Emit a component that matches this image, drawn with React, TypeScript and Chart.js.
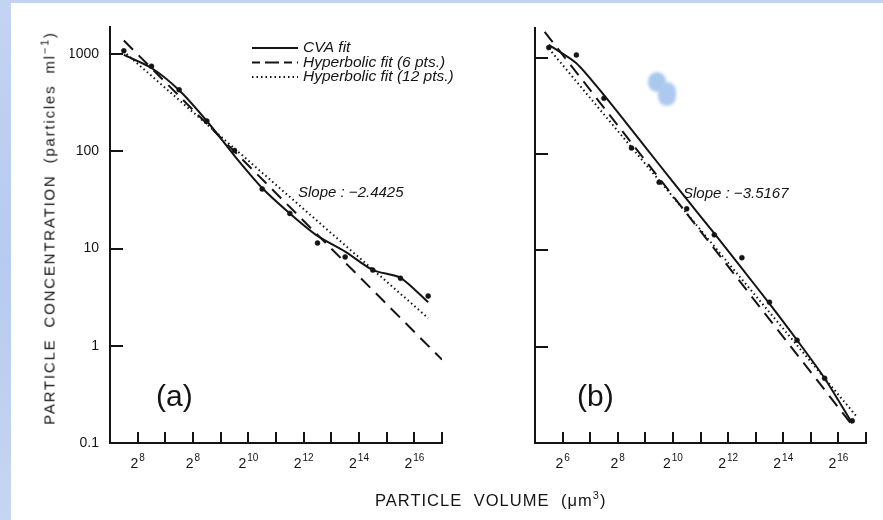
import React, { useEffect, useRef } from 'react';
import { Chart, registerables } from 'chart.js';

Chart.register(...registerables);

// ---------- data (x = log2 of particle volume, y = particles per ml) ----------
const exponents = [5.5, 6.5, 7.5, 8.5, 9.5, 10.5, 11.5, 12.5, 13.5, 14.5, 15.5, 16.5];

// panel (a)
const observedA = [1080, 750, 430, 205, 102, 41, 23, 11.4, 8.2, 6.0, 4.95, 3.25];
const cvaFitA = [980, 720, 425, 205, 90, 42, 23, 13.5, 9.3, 6.0, 5.0, 2.8];
const hyp6ExpA = [5.5, 17];
const hyp6A = [1380, 0.72];
const hyp12ExpA = [5.6, 16.5];
const hyp12A = [1000, 1.93];

// panel (b)
const observedB = [1280, 1070, 380, 116, 51, 27, 14.5, 8.4, 2.9, 1.17, 0.47, 0.17];
const cvaFitB = [1365, 880, 410, 180, 78, 34, 15, 6.5, 2.8, 1.17, 0.47, 0.16];
const hyp6ExpB = [5.35, 16.45];
const hyp6B = [1860, 0.16];
const hyp12ExpB = [5.5, 16.65];
const hyp12B = [1250, 0.19];

// axes
const xTickValues = [6, 7, 8, 9, 10, 11, 12, 13, 14, 15, 16, 17];
const xTickPowersA = ['8', '', '8', '', '10', '', '12', '', '14', '', '16', ''];
const xTickPowersB = ['6', '', '8', '', '10', '', '12', '', '14', '', '16', ''];
const xTickBase = '2';
const yTickValues = [0.1, 1, 10, 100, 1000];
const yTickLabels = ['0.1', '1', '10', '100', '1000'];
const xRange = [5, 17];
const yRangeA = [0.1, 1900];
const yRangeB = [0.1, 2040];

const seriesLabels = ['CVA fit', 'Hyperbolic fit (6 pts.)', 'Hyperbolic fit (12 pts.)'];
const slopeTextA = 'Slope : −2.4425';
const slopeTextB = 'Slope : −3.5167';

const INK = '#141414';
const FONT = '"Liberation Sans", "DejaVu Sans", Arial, sans-serif';

const pairs = (xs: number[], ys: number[]) => xs.map((x, i) => ({ x, y: ys[i] }));

const innerTicksPlugin = {
  id: 'innerTicks',
  afterDatasetsDraw(chart: any, _args: any, opts: any) {
    const { ctx, chartArea, scales } = chart;
    const xs = scales.x;
    const ys = scales.y;
    ctx.save();
    ctx.strokeStyle = INK;
    ctx.lineWidth = 2;
    ctx.beginPath();
    xs.ticks.forEach((t: any) => {
      const px = Math.round(xs.getPixelForValue(t.value));
      ctx.moveTo(px, chartArea.bottom);
      ctx.lineTo(px, chartArea.bottom - opts.xLength);
    });
    ys.ticks.forEach((t: any) => {
      if (t.value <= ys.min) return;
      const py = Math.round(ys.getPixelForValue(t.value));
      ctx.moveTo(chartArea.left, py);
      ctx.lineTo(chartArea.left + opts.yLength, py);
    });
    ctx.stroke();

    // power-of-two tick labels under the x axis
    const powers: string[] = opts.powers || [];
    ctx.fillStyle = INK;
    ctx.textBaseline = 'alphabetic';
    xs.ticks.forEach((t: any) => {
      const i = xTickValues.indexOf(t.value);
      const p = i >= 0 ? powers[i] : '';
      if (!p) return;
      const px = xs.getPixelForValue(t.value);
      ctx.font = `14px ${FONT}`;
      const wb = ctx.measureText(xTickBase).width;
      ctx.font = `10px ${FONT}`;
      const wp = ctx.measureText(p).width;
      const x0 = px - (wb + wp + 1) / 2;
      const base = chartArea.bottom + opts.labelOffset;
      ctx.font = `14px ${FONT}`;
      ctx.textAlign = 'left';
      ctx.fillText(xTickBase, x0, base);
      ctx.font = `10px ${FONT}`;
      ctx.fillText(p, x0 + wb + 1, base - 7);
    });
    ctx.restore();
  },
};

const panelTextPlugin = {
  id: 'panelText',
  afterDraw(chart: any, _args: any, opts: any) {
    const { ctx } = chart;
    ctx.save();
    ctx.fillStyle = INK;
    ctx.textAlign = 'left';
    ctx.textBaseline = 'middle';
    (opts.items || []).forEach((it: any) => {
      ctx.font = it.font;
      ctx.fillText(it.text, it.x, it.y);
    });
    if (opts.legend) {
      const lg = opts.legend;
      const lines = chart.data.datasets.filter((d: any) => d.showLine);
      lines.forEach((d: any, i: number) => {
        const y = lg.y + i * lg.rowGap;
        ctx.save();
        ctx.strokeStyle = d.borderColor;
        ctx.lineWidth = d.borderWidth;
        ctx.setLineDash(d.legendDash || d.borderDash || []);
        ctx.beginPath();
        ctx.moveTo(lg.x, y);
        ctx.lineTo(lg.x + lg.lineLength, y);
        ctx.stroke();
        ctx.restore();
        ctx.font = lg.font;
        ctx.fillText(d.label, lg.x + lg.lineLength + 5, y);
      });
    }
    ctx.restore();
  },
};

function makeConfig(
  observed: number[],
  cva: number[],
  h6x: number[],
  h6: number[],
  h12x: number[],
  h12: number[],
  yRange: number[],
  powers: string[],
  showYLabels: boolean,
  padding: any,
  textOpts: any
): any {
  return {
    type: 'scatter',
    data: {
      datasets: [
        {
          label: seriesLabels[0],
          data: pairs(exponents, cva),
          showLine: true,
          borderColor: INK,
          borderWidth: 2,
          pointRadius: 0,
          tension: 0.25,
        },
        {
          label: seriesLabels[1],
          data: pairs(h6x, h6),
          showLine: true,
          borderColor: INK,
          borderWidth: 2,
          borderDash: [13, 8],
          legendDash: [8, 5, 14, 5],
          pointRadius: 0,
        },
        {
          label: seriesLabels[2],
          data: pairs(h12x, h12),
          showLine: true,
          borderColor: INK,
          borderWidth: 2,
          borderDash: [1.5, 3],
          pointRadius: 0,
        },
        {
          label: 'data',
          data: pairs(exponents, observed),
          showLine: false,
          pointRadius: 2.5,
          pointBackgroundColor: INK,
          pointBorderColor: INK,
          pointBorderWidth: 0.5,
        },
      ],
    },
    options: {
      responsive: false,
      animation: false,
      events: [],
      layout: { padding },
      plugins: {
        legend: { display: false },
        tooltip: { enabled: false },
        innerTicks: { xLength: 11, yLength: 13, powers, labelOffset: 25 },
        panelText: textOpts,
      },
      scales: {
        x: {
          type: 'linear',
          position: 'bottom',
          min: xRange[0],
          max: xRange[1],
          grid: { display: false },
          border: { display: true, color: INK, width: 2 },
          afterBuildTicks: (s: any) => {
            s.ticks = xTickValues.map((v) => ({ value: v }));
          },
          afterFit: (s: any) => {
            s.height = 40;
          },
          ticks: { display: false },
        },
        y: {
          type: 'logarithmic',
          position: 'left',
          min: yRange[0],
          max: yRange[1],
          bounds: 'data',
          grid: { display: false },
          border: { display: true, color: INK, width: 2 },
          afterBuildTicks: (s: any) => {
            s.ticks = yTickValues.map((v) => ({ value: v }));
          },
          afterFit: (s: any) => {
            s.width = 40;
          },
          ticks: {
            display: showYLabels,
            autoSkip: false,
            padding: 3,
            color: INK,
            font: { family: FONT, size: 14 },
            callback: (v: number) => {
              const i = yTickValues.indexOf(v);
              return i >= 0 ? yTickLabels[i] : '';
            },
          },
        },
      },
    },
    plugins: [innerTicksPlugin, panelTextPlugin],
  };
}

export default function App() {
  const refA = useRef<HTMLCanvasElement>(null);
  const refB = useRef<HTMLCanvasElement>(null);

  useEffect(() => {
    const italic = `italic 15px ${FONT}`;
    const legendFont = `italic 15.5px ${FONT}`;
    const big = `30px ${FONT}`;
    const chartA = new Chart(
      refA.current as HTMLCanvasElement,
      makeConfig(
        observedA, cvaFitA, hyp6ExpA, hyp6A, hyp12ExpA, hyp12A, yRangeA, xTickPowersA, true,
        { left: 70, right: 28, top: 27, bottom: 37 },
        {
          items: [
            { text: slopeTextA, x: 298, y: 193, font: italic },
            { text: '(a)', x: 156, y: 398, font: big },
          ],
          legend: { x: 252, y: 48, rowGap: 14.5, lineLength: 46, font: legendFont },
        }
      )
    );
    const chartB = new Chart(
      refB.current as HTMLCanvasElement,
      makeConfig(
        observedB, cvaFitB, hyp6ExpB, hyp6B, hyp12ExpB, hyp12B, yRangeB, xTickPowersB, false,
        { left: 25, right: 17, top: 28, bottom: 37 },
        {
          items: [
            { text: slopeTextB, x: 213, y: 194, font: italic },
            { text: '(b)', x: 107, y: 398, font: big },
          ],
        }
      )
    );
    return () => {
      chartA.destroy();
      chartB.destroy();
    };
  }, []);

  return (
    <div
      style={{
        position: 'fixed',
        left: 0,
        top: 0,
        width: 883,
        height: 520,
        overflow: 'hidden',
        background: 'linear-gradient(180deg, #c3d3f3, #b6cbef 50%, #c6d5f2)',
        fontFamily: FONT,
        color: INK,
      }}
    >
      <div style={{ position: 'absolute', left: 11, top: 3, right: 0, bottom: 0, background: '#ffffff' }} />
      {/* light blue smudge on the scanned page */}
      <div style={{ position: 'absolute', left: 648, top: 72, width: 18, height: 20, borderRadius: 10, background: '#a9c8ee', filter: 'blur(1.5px)' }} />
      <div style={{ position: 'absolute', left: 658, top: 82, width: 18, height: 24, borderRadius: 10, background: '#adc9ef', filter: 'blur(1.5px)' }} />
      <canvas ref={refA} width={470} height={520} style={{ position: 'absolute', left: 0, top: 0, width: 470, height: 520 }} />
      <canvas ref={refB} width={413} height={520} style={{ position: 'absolute', left: 470, top: 0, width: 413, height: 520 }} />
      <div
        style={{
          position: 'absolute',
          left: 47,
          top: 228,
          transform: 'translate(-50%, -50%) rotate(-90deg)',
          whiteSpace: 'nowrap',
          fontSize: 15,
          letterSpacing: 1.8,
          wordSpacing: 5,
          lineHeight: '16px',
        }}
      >
        PARTICLE CONCENTRATION (particles ml<sup style={{ fontSize: 11 }}>−1</sup>)
      </div>
      <div
        style={{
          position: 'absolute',
          left: 375,
          top: 486,
          whiteSpace: 'nowrap',
          fontSize: 16.5,
          letterSpacing: 1,
          wordSpacing: 6,
          lineHeight: '18px',
        }}
      >
        PARTICLE VOLUME (μm<sup style={{ fontSize: 11 }}>3</sup>)
      </div>
    </div>
  );
}
